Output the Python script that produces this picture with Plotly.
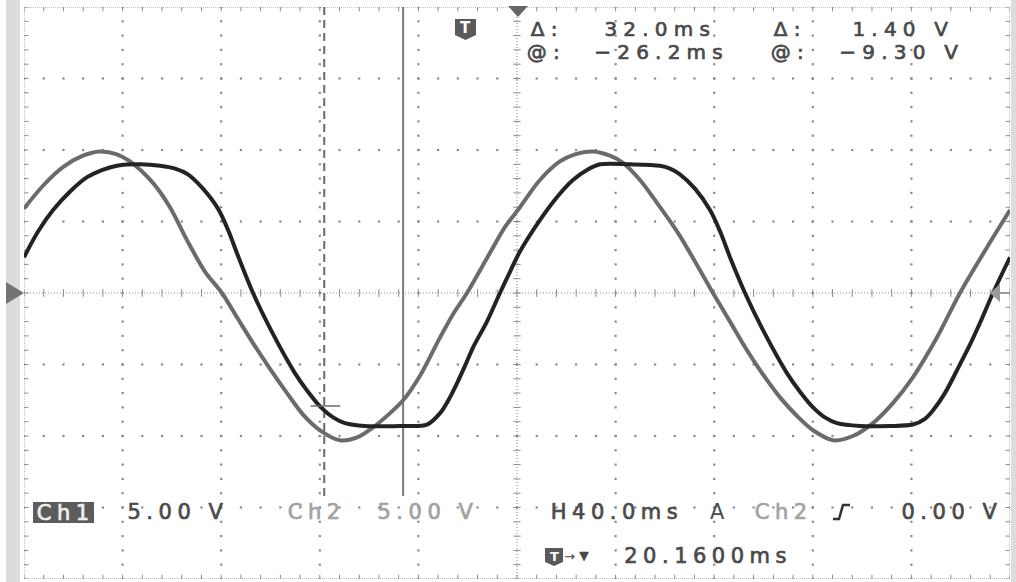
import numpy as np
import plotly.graph_objects as go

# ---------------- data (read from the screen) ----------------
# time in ms relative to screen centre (40 ms/div), voltage in V (5 V/div)
ch1_t = [-200.0, -194.3, -188.2, -181.3, -174.4, -168.4, -162.3, -152.9, -144.8, -138.7,
         -133.5, -127.4, -121.3, -117.2, -113.2, -107.1, -99.8, -90.1, -84.8, -79.5,
         -74.6, -69.8, -61.7, -47.5, -36.5, -31.2, -27.2, -24.3, -21.1, -17.8,
         -12.2, -6.9, -2.8, 1.2, 9.3, 16.2, 22.7, 28.4, 33.7, 45.8,
         58.0, 62.1, 66.1, 72.2, 78.3, 82.4, 86.4, 92.5, 99.8, 109.5,
         114.8, 120.1, 124.9, 129.8, 139.1, 151.3, 160.6, 165.5, 168.8, 173.6,
         178.5, 183.8, 187.8, 193.1, 200.0]
ch1_v = [2.5, 4.3, 5.8, 7.1, 8.1, 8.6, 8.9, 9.0, 8.9, 8.7,
         8.3, 7.3, 5.9, 4.4, 2.6, 0.0, -2.6, -5.6, -6.9, -8.0,
         -8.7, -9.1, -9.3, -9.3, -9.2, -8.4, -7.3, -6.3, -5.1, -3.8,
         -2.0, 0.0, 1.5, 2.9, 5.1, 6.7, 7.9, 8.6, 9.0, 9.0,
         8.9, 8.7, 8.3, 7.3, 5.8, 4.3, 2.5, 0.0, -2.6, -5.6,
         -6.9, -8.0, -8.7, -9.1, -9.3, -9.3, -9.2, -8.8, -8.2, -7.0,
         -5.4, -3.6, -2.1, 0.0, 2.5]

ch2_t = [-200.0, -192.3, -184.2, -176.1, -169.2, -162.3, -157.0, -147.7, -140.8, -133.9,
         -126.6, -119.7, -113.6, -107.1, -100.2, -93.3, -86.8, -79.9, -71.8, -64.9,
         -58.4, -51.5, -46.2, -39.4, -31.2, -26.0, -20.3, -11.0, -4.9, 1.2,
         9.3, 17.4, 23.5, 30.8, 37.7, 43.0, 49.9, 56.8, 65.3, 72.2,
         79.5, 86.4, 93.3, 99.8, 106.7, 113.6, 120.1, 128.2, 136.3, 144.4,
         152.5, 160.6, 170.4, 179.7, 190.7, 200.0]
ch2_v = [5.9, 7.5, 8.8, 9.6, 9.9, 9.7, 9.2, 7.7, 6.0, 3.7,
         1.5, 0.0, -1.7, -3.5, -5.3, -7.0, -8.5, -9.6, -10.3, -10.1,
         -9.4, -8.4, -7.5, -5.8, -3.1, -1.5, 0.0, 2.8, 4.6, 6.0,
         7.9, 9.2, 9.7, 9.9, 9.6, 9.1, 7.9, 6.3, 4.2, 2.2,
         0.0, -2.0, -4.0, -5.7, -7.3, -8.6, -9.6, -10.3, -10.0, -9.1,
         -7.7, -5.9, -3.1, 0.0, 3.2, 5.8]

# cursors
cursor1_t = -78.2
cursor2_t = -46.2
cursor1_v = -7.90
cursor2_v = -9.30

# graticule
T_RANGE = [-200, 200]
V_RANGE = [-20, 20]
t_major = list(range(-200, 201, 40))
v_major = list(range(-20, 21, 5))
t_minor = list(range(-200, 201, 8))
v_minor = list(range(-20, 21, 1))

# readout texts
top_row1 = [("Δ:", 547), ("32.0ms", 660), ("Δ:", 790), ("1.40 V", 903)]
top_row2 = [("@:", 546), ("−26.2ms", 661), ("@:", 790), ("−9.30 V", 902)]

# ---------------- page geometry ----------------
W, H = 1016, 582
PX0, PX1, PY0, PY1 = 24, 1010, 7, 579


def px(x):
    return x / W


def py(y):
    return 1 - y / H


GRID = "#8a8a8a"
TXT = "#4a4a4a"
LIGHT = "#a2a2a2"
FONT = "DejaVu Sans"

fig = go.Figure()

# grid dots
gx, gy = [], []
for t in t_major[1:-1]:
    if t == 0:
        continue
    for v in v_minor:
        gx.append(t)
        gy.append(v)
for v in v_major[1:-1]:
    if v == 0:
        continue
    for t in t_minor:
        gx.append(t)
        gy.append(v)
fig.add_trace(go.Scatter(x=gx, y=gy, mode="markers", hoverinfo="skip",
                         marker=dict(symbol="square", size=2.2, color=GRID, line=dict(width=0))))

# ticks on centre lines and on the border
tx, ty = [], []
for t in t_minor:
    tx += [t, t, None]; ty += [-0.27, 0.27, None]
    tx += [t, t, None]; ty += [20, 19.7, None]
    tx += [t, t, None]; ty += [-20, -19.7, None]
for v in v_minor:
    tx += [-1.5, 1.5, None]; ty += [v, v, None]
    tx += [-200, -198.2, None]; ty += [v, v, None]
    tx += [200, 198.2, None]; ty += [v, v, None]
fig.add_trace(go.Scatter(x=tx, y=ty, mode="lines", hoverinfo="skip",
                         line=dict(color=GRID, width=1)))

# waveforms
fig.add_trace(go.Scatter(x=ch2_t, y=ch2_v, mode="lines", name="Ch2", hoverinfo="skip",
                         line=dict(color="#6b6b6b", width=4, shape="spline", smoothing=0.9)))
fig.add_trace(go.Scatter(x=ch1_t, y=ch1_v, mode="lines", name="Ch1", hoverinfo="skip",
                         line=dict(color="#232323", width=4, shape="spline", smoothing=0.9)))

shapes = []
# side strips
shapes.append(dict(type="rect", xref="paper", yref="paper", x0=px(6), x1=px(20), y0=0, y1=1,
                   fillcolor="#dcdcdc", line=dict(width=0), layer="below"))
shapes.append(dict(type="rect", xref="paper", yref="paper", x0=px(1011), x1=1, y0=0, y1=1,
                   fillcolor="#dcdcdc", line=dict(width=0), layer="below"))
# border and centre lines
shapes.append(dict(type="rect", xref="x", yref="y", x0=-200, x1=200, y0=-20, y1=20,
                   line=dict(color=GRID, width=1, dash="1px,1px"), layer="below"))
shapes.append(dict(type="line", xref="x", yref="y", x0=-200, x1=200, y0=0, y1=0,
                   line=dict(color=GRID, width=1, dash="1px,2px"), layer="below"))
shapes.append(dict(type="line", xref="x", yref="y", x0=0, x1=0, y0=-20, y1=20,
                   line=dict(color=GRID, width=1, dash="1px,2px"), layer="below"))
# cursors
shapes.append(dict(type="line", xref="x", yref="y", x0=cursor1_t, x1=cursor1_t, y0=-14.2, y1=20.3,
                   line=dict(color="#6a6a6a", width=2, dash="8px,5px"), layer="below"))
shapes.append(dict(type="line", xref="x", yref="y", x0=cursor2_t, x1=cursor2_t, y0=-14.2, y1=20.3,
                   line=dict(color="#7a7a7a", width=2), layer="below"))
shapes.append(dict(type="line", xref="x", yref="y", x0=cursor1_t - 5.5, x1=cursor1_t + 6.5,
                   y0=cursor1_v, y1=cursor1_v, line=dict(color="#6a6a6a", width=1.5)))
shapes.append(dict(type="line", xref="x", yref="y", x0=cursor2_t - 6, x1=cursor2_t + 6,
                   y0=cursor2_v, y1=cursor2_v, line=dict(color="#7a7a7a", width=1.5), layer="below"))


def path(points, close=True):
    s = "M" + " L".join(f"{px(x):.5f},{py(y):.5f}" for x, y in points)
    return s + (" Z" if close else "")


# markers: trigger position, ground, trigger level
shapes.append(dict(type="path", xref="paper", yref="paper",
                   path=path([(508, 6), (528, 6), (518, 17)]), fillcolor="#666666", line=dict(width=0)))
shapes.append(dict(type="path", xref="paper", yref="paper",
                   path=path([(6, 282), (24, 293), (6, 304)]), fillcolor="#747474", line=dict(width=0)))
shapes.append(dict(type="path", xref="paper", yref="paper",
                   path=path([(1000, 284), (990, 293), (1000, 302)]), fillcolor="#9a9a9a", line=dict(width=0)))
shapes.append(dict(type="line", xref="paper", yref="paper", x0=px(1000), x1=px(1010), y0=py(293), y1=py(293),
                   line=dict(color="#9a9a9a", width=2)))
# T icons
shapes.append(dict(type="path", xref="paper", yref="paper",
                   path=path([(455, 19), (476, 19), (476, 35), (465.5, 40), (455, 35)]),
                   fillcolor="#5a5a5a", line=dict(width=0)))
shapes.append(dict(type="path", xref="paper", yref="paper",
                   path=path([(545, 548), (563, 548), (563, 562), (554, 566), (545, 562)]),
                   fillcolor="#5a5a5a", line=dict(width=0)))
# Ch1 box
shapes.append(dict(type="rect", xref="paper", yref="paper", x0=px(33), x1=px(94), y0=py(523), y1=py(502),
                   fillcolor="#5c5c5c", line=dict(width=0)))
# rising-edge symbol
shapes.append(dict(type="path", xref="paper", yref="paper",
                   path=path([(833, 519), (839, 519), (843, 505), (850, 505)], close=False),
                   line=dict(color="#333333", width=2.5)))

ann = []


def label(text, cx, cy, color=TXT, size=21, bold=False):
    ann.append(dict(text=f"<b>{text}</b>" if bold else text, x=px(cx), y=py(cy),
                    xref="paper", yref="paper", xanchor="center", yanchor="middle",
                    showarrow=False, font=dict(family=FONT, size=size, color=color)))


for s, cx in top_row1:
    label(s, cx, 29, size=20)
for s, cx in top_row2:
    label(s, cx, 52, size=20)

label("T", 465.5, 28, color="#ffffff", size=15, bold=True)
label("T", 554, 556, color="#ffffff", size=13, bold=True)

label("Ch1", 65, 512.5, color="#f0f0f0")
label("5.00 V", 178, 512)
label("Ch2", 316, 512, color=LIGHT)
label("5.00 V", 428, 512, color=LIGHT)
label("H40.0ms", 617, 512)
label("A", 717, 512)
label("Ch2", 783, 512, color=LIGHT)
label("0.00 V", 952, 512)
label("→", 569, 556, size=13)
label("▼", 584, 555, size=13)
label("20.1600ms", 708, 556)

fig.update_layout(
    width=W, height=H,
    margin=dict(l=0, r=0, t=0, b=0),
    paper_bgcolor="white", plot_bgcolor="white",
    showlegend=False,
    xaxis=dict(range=T_RANGE, domain=[px(PX0), px(PX1)], visible=False, fixedrange=True),
    yaxis=dict(range=V_RANGE, domain=[py(PY1), py(PY0)], visible=False, fixedrange=True),
    shapes=shapes,
    annotations=ann,
    hovermode=False,
)

post = """
var gd = document.getElementById('{plot_id}');
gd.querySelectorAll('.annotation-text').forEach(function(t){
  var txt = t.textContent;
  if (txt.length > 1 && txt !== '→') {
    var fs = parseFloat(t.style.fontSize) || 21;
    t.style.letterSpacing = (fs >= 21 ? 5.5 : 6.2) + 'px';
    var col = t.style.fill;
    if (col) { t.style.stroke = col; t.style.strokeWidth = '0.7px'; }
  }
});
"""

fig.write_html("out.html", config={"displayModeBar": False, "staticPlot": True}, post_script=post)
